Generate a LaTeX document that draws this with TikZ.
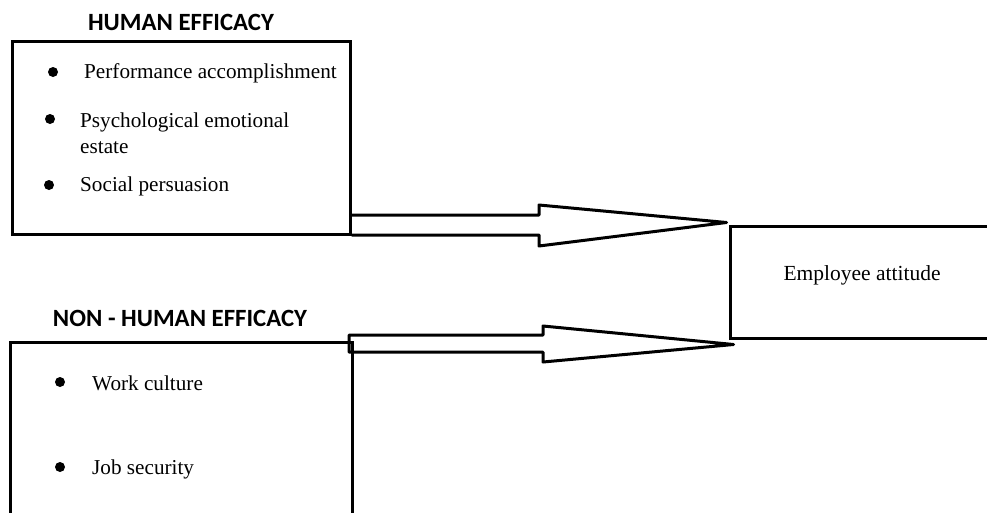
\documentclass[tikz,border=0pt]{standalone}
\usepackage{fontspec}
\setmainfont{Liberation Serif}
\newfontfamily\titlefont{Carlito}
\usetikzlibrary{calc}
\tikzset{
  box/.style={draw, line width=3pt, inner sep=0pt},
  title/.style={font=\titlefont\bfseries\fontsize{24.8}{28}\selectfont, inner sep=0pt},
  item/.style={font=\fontsize{21.2}{25.5}\selectfont, anchor=west, inner sep=0pt, align=left},
  dot/.style={circle, fill=black, inner sep=0pt, minimum size=10pt},
  blockarrow/.style={draw, line width=3pt, line join=round},
}
\begin{document}
\begin{tikzpicture}[x=1pt, y=-1pt]
\useasboundingbox (0,0) rectangle (987,512);
\clip (0,0) rectangle (987,512);
% boxes
\node[box, minimum width=338pt, minimum height=193pt] (he) at (181,137.5) {};
\node[box, minimum width=342pt, minimum height=200pt] (nhe) at (181,442) {};
\node[box, minimum width=280pt, minimum height=112pt, anchor=west] (ea) at (728.5,282) {};
\node[font=\fontsize{21.5}{25}\selectfont, inner sep=0pt] (eat) at (862,275) {Employee attitude};
% titles
\node[title] (het) at (181,22) {HUMAN EFFICACY};
\node[title] (nhet) at (180,318) {NON - HUMAN EFFICACY};
% human efficacy items
\node[dot] (b1) at (53,72) {};
\node[item] (i1) at (84,73) {Performance accomplishment};
\node[dot] (b2) at (50,119) {};
\node[item] (i2) at (80,133) {Psychological emotional\\estate};
\node[dot] (b3) at (49,185) {};
\node[item] (i3) at (80,186) {Social persuasion};
% non-human efficacy items
\node[dot] (b4) at (60,382) {};
\node[item] (i4) at (92,383) {Work culture};
\node[dot] (b5) at (60,467) {};
\node[item] (i5) at (92,469) {Job security};
% coordinates for block arrows
\coordinate (a1s) at (he.east |- 0,215);
\coordinate (a1t) at ($(ea.north west)+(-2,-2)$);
\coordinate (a2s) at (349,335);
\coordinate (a2t) at ($(ea.south west)+(5,5)$);
% upper block arrow
\draw[blockarrow] (a1s) -- (539,215) -- (539,205) -- (a1t) -- (539,246) -- (539,235) -- (he.east |- 0,235);
% lower block arrow
\draw[blockarrow] (a2s) -- (543,335) -- (543,326) -- (a2t) -- (543,362) -- (543,352) -- (349,352) -- cycle;
\end{tikzpicture}
\end{document}
